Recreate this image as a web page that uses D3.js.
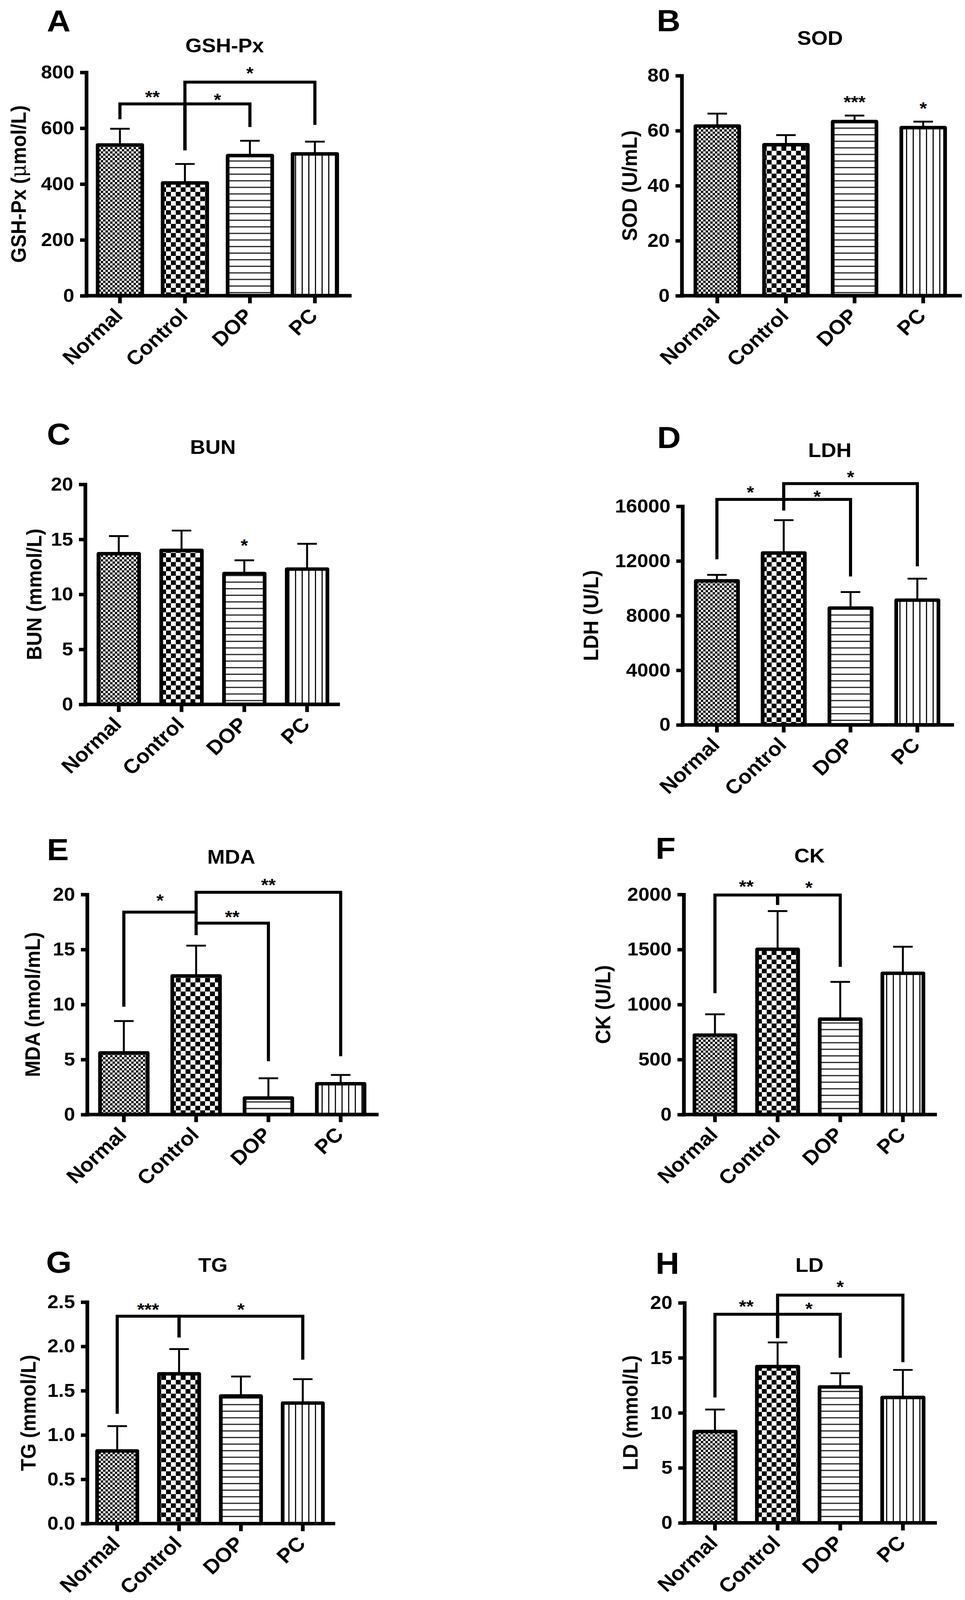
<!DOCTYPE html>
<html><head><meta charset="utf-8">
<script src="https://cdn.jsdelivr.net/npm/d3@7/dist/d3.min.js"></script>
<style>html,body{margin:0;padding:0;background:#fff;overflow:hidden;} svg{display:block;font-family:"Liberation Sans",Arial,Helvetica,sans-serif;}</style>
</head><body><div id="chart"></div>
<script>
// ---------- DATA ----------
const groups = ["Normal", "Control", "DOP", "PC"];

const gshpxTicks = [0, 200, 400, 600, 800];
const gshpxMean = [540, 404, 502, 508];
const gshpxErr = [58, 68, 53, 44];
const gshpxBrackets = [
  {from: "Normal", to: "Control", line: 687, fromLeg: 632, toLeg: 521, label: "**", labelAt: 725},
  {from: "Control", to: "DOP", line: 687, fromLeg: 521, toLeg: 604, label: "*", labelAt: 715},
  {from: "Control", to: "PC", line: 765, fromLeg: 521, toLeg: 612, label: "*", labelAt: 811}
];

const sodTicks = [0, 20, 40, 60, 80];
const sodMean = [61.7, 54.9, 63.3, 61.1];
const sodErr = [4.5, 3.5, 2.2, 2.2];
const sodStars = [{group: "DOP", label: "***", labelAt: 71.8}, {group: "PC", label: "*", labelAt: 69.5}];

const bunTicks = [0, 5, 10, 15, 20];
const bunMean = [13.7, 14.0, 11.9, 12.3];
const bunErr = [1.6, 1.8, 1.2, 2.3];
const bunStars = [{group: "DOP", label: "*", labelAt: 14.8}];

const ldhTicks = [0, 4000, 8000, 12000, 16000];
const ldhMean = [10540, 12580, 8550, 9130];
const ldhErr = [440, 2405, 1175, 1570];
const ldhBrackets = [
  {from: "Normal", to: "Control", line: 16500, fromLeg: 12120, toLeg: 15690, label: "*", labelAt: 17290},
  {from: "Control", to: "DOP", line: 16500, fromLeg: 15690, toLeg: 10860, label: "*", labelAt: 16990},
  {from: "Control", to: "PC", line: 17660, fromLeg: 15690, toLeg: 11610, label: "*", labelAt: 18400}
];

const mdaTicks = [0, 5, 10, 15, 20];
const mdaMean = [5.6, 12.6, 1.5, 2.8];
const mdaErr = [2.9, 2.75, 1.8, 0.8];
const mdaBrackets = [
  {from: "Normal", to: "Control", line: 18.4, fromLeg: 9.8, toLeg: 16.3, label: "*", labelAt: 19.8},
  {from: "Control", to: "DOP", line: 17.4, fromLeg: 16.3, toLeg: 4.85, label: "**", labelAt: 18.3},
  {from: "Control", to: "PC", line: 20.2, fromLeg: 16.3, toLeg: 5.3, label: "**", labelAt: 21.2}
];

const ckTicks = [0, 500, 1000, 1500, 2000];
const ckMean = [722, 1502, 867, 1284];
const ckErr = [189, 347, 339, 241];
const ckBrackets = [
  {from: "Normal", to: "Control", line: 1995, fromLeg: 1103, toLeg: 1906, label: "**", labelAt: 2106},
  {from: "Control", to: "DOP", line: 1995, fromLeg: 1906, toLeg: 1342, label: "*", labelAt: 2096}
];

const tgTicks = [0, 0.5, 1.0, 1.5, 2.0, 2.5];
const tgMean = [0.82, 1.69, 1.44, 1.36];
const tgErr = [0.28, 0.28, 0.22, 0.27];
const tgBrackets = [
  {from: "Normal", to: "Control", line: 2.34, fromLeg: 1.24, toLeg: 2.10, label: "***", labelAt: 2.46},
  {from: "Control", to: "PC", line: 2.34, fromLeg: 2.10, toLeg: 1.85, label: "*", labelAt: 2.46}
];

const ldTicks = [0, 5, 10, 15, 20];
const ldMean = [8.3, 14.2, 12.35, 11.4];
const ldErr = [2.0, 2.2, 1.25, 2.5];
const ldBrackets = [
  {from: "Normal", to: "Control", line: 18.96, fromLeg: 11.4, toLeg: 16.8, label: "**", labelAt: 20.0},
  {from: "Control", to: "DOP", line: 18.96, fromLeg: 16.8, toLeg: 15.0, label: "*", labelAt: 19.8},
  {from: "Control", to: "PC", line: 20.7, fromLeg: 16.8, toLeg: 14.6, label: "*", labelAt: 21.8}
];

const panels = [
  {id: "A", title: "GSH-Px", yLabel: ["GSH-Px (", "\u03bc", "mol/L)"], ticks: gshpxTicks, mean: gshpxMean, err: gshpxErr, brackets: gshpxBrackets, stars: [], fmt: d3.format("d")},
  {id: "B", title: "SOD", yLabel: ["SOD (U/mL)"], ticks: sodTicks, mean: sodMean, err: sodErr, brackets: [], stars: sodStars, fmt: d3.format("d")},
  {id: "C", title: "BUN", yLabel: ["BUN (mmol/L)"], ticks: bunTicks, mean: bunMean, err: bunErr, brackets: [], stars: bunStars, fmt: d3.format("d")},
  {id: "D", title: "LDH", yLabel: ["LDH (U/L)"], ticks: ldhTicks, mean: ldhMean, err: ldhErr, brackets: ldhBrackets, stars: [], fmt: d3.format("d")},
  {id: "E", title: "MDA", yLabel: ["MDA (nmol/mL)"], ticks: mdaTicks, mean: mdaMean, err: mdaErr, brackets: mdaBrackets, stars: [], fmt: d3.format("d")},
  {id: "F", title: "CK", yLabel: ["CK (U/L)"], ticks: ckTicks, mean: ckMean, err: ckErr, brackets: ckBrackets, stars: [], fmt: d3.format("d")},
  {id: "G", title: "TG", yLabel: ["TG (mmol/L)"], ticks: tgTicks, mean: tgMean, err: tgErr, brackets: tgBrackets, stars: [], fmt: d3.format(".1f")},
  {id: "H", title: "LD", yLabel: ["LD (mmol/L)"], ticks: ldTicks, mean: ldMean, err: ldErr, brackets: ldBrackets, stars: [], fmt: d3.format("d")}
];

// ---------- LAYOUT (reference pixel space 2470 x 4377) ----------
const layout = {
  A: {x0: 221, x1: 900, yTop: 198, yBot: 809, c1: 307, c4: 806, bw: 114, letter: [120, 87], title: [575, 143], yTitleX: 47},
  B: {x0: 1745, x1: 2462, yTop: 207, yBot: 809, c1: 1836, c4: 2363, bw: 112, letter: [1681, 86], title: [2099, 123], yTitleX: 1611},
  C: {x0: 218, x1: 870, yTop: 1325, yBot: 1927, c1: 304, c4: 786, bw: 104, letter: [120, 1216], title: [545, 1242], yTitleX: 87},
  D: {x0: 1747, x1: 2442, yTop: 1385, yBot: 1983, c1: 1835, c4: 2348, bw: 108, letter: [1682, 1226], title: [2124, 1250], yTitleX: 1512},
  E: {x0: 223, x1: 969, yTop: 2447, yBot: 3049, c1: 317, c4: 872, bw: 122, letter: [120, 2353], title: [592, 2363], yTitleX: 83},
  F: {x0: 1750, x1: 2398, yTop: 2447, yBot: 3049, c1: 1830, c4: 2311, bw: 105, letter: [1678, 2350], title: [2072, 2359], yTitleX: 1543},
  G: {x0: 223, x1: 858, yTop: 3562, yBot: 4168, c1: 300, c4: 775, bw: 103, letter: [118, 3481], title: [545, 3479], yTitleX: 72},
  H: {x0: 1752, x1: 2398, yTop: 3564, yBot: 4166, c1: 1830, c4: 2311, bw: 106, letter: [1678, 3485], title: [2072, 3479], yTitleX: 1613}
};

const W = 2470, H = 4377;
const AXW = 9.5, BARW = 9.5, BRW = 8, ERRW = 5, CAP = 50, TICK = 16;
const FONT_TICK = 51, FONT_XLAB = 55, FONT_TITLE = 54, FONT_LETTER = 84, FONT_STAR = 48;

// the drawing is laid out in the reference's pixel space and fitted to the window
const vw = window.innerWidth || W, vh = window.innerHeight || H;
const svg = d3.select("#chart").append("svg")
  .attr("width", vw).attr("height", vh).attr("viewBox", `0 0 ${W} ${H}`)
  .attr("preserveAspectRatio", "none");
svg.append("rect").attr("width", W).attr("height", H).attr("fill", "#fff");

// ---------- PATTERNS ----------
const defs = svg.append("defs");
function checker(id, c) {
  const p = defs.append("pattern").attr("id", id).attr("patternUnits", "userSpaceOnUse")
    .attr("width", 2 * c).attr("height", 2 * c);
  p.append("rect").attr("width", 2 * c).attr("height", 2 * c).attr("fill", "#fff");
  p.append("rect").attr("width", c).attr("height", c).attr("fill", "#000");
  p.append("rect").attr("x", c).attr("y", c).attr("width", c).attr("height", c).attr("fill", "#000");
}
checker("pat-Normal", 6);
checker("pat-Control", 12.5);
(function () {
  const h = defs.append("pattern").attr("id", "pat-DOP").attr("patternUnits", "userSpaceOnUse")
    .attr("width", 20).attr("height", 18);
  h.append("rect").attr("width", 20).attr("height", 18).attr("fill", "#fff");
  h.append("rect").attr("y", 7).attr("width", 20).attr("height", 3).attr("fill", "#111");
  const v = defs.append("pattern").attr("id", "pat-PC").attr("patternUnits", "userSpaceOnUse")
    .attr("width", 17).attr("height", 20);
  v.append("rect").attr("width", 17).attr("height", 20).attr("fill", "#fff");
  v.append("rect").attr("x", 7).attr("width", 3).attr("height", 20).attr("fill", "#111");
})();

// ---------- DRAW ----------
panels.forEach(p => {
  const L = layout[p.id];
  const g = svg.append("g").attr("class", "panel panel-" + p.id);
  const step = (L.c4 - L.c1) / 3;
  const pad = 1 - L.bw / step;
  const x = d3.scaleBand().domain(groups)
    .range([L.c1 - step / 2, L.c4 + step / 2])
    .paddingInner(pad).paddingOuter(pad / 2);
  const yMax = p.ticks[p.ticks.length - 1];
  const y = d3.scaleLinear().domain([0, yMax]).range([L.yBot, L.yTop]);
  const cx = d => x(d) + x.bandwidth() / 2;

  g.append("text").attr("x", L.letter[0]).attr("y", L.letter[1])
    .attr("font-size", FONT_LETTER).attr("font-weight", "bold").text(p.id);
  g.append("text").attr("x", L.title[0]).attr("y", L.title[1]).attr("text-anchor", "middle")
    .attr("font-size", FONT_TITLE).attr("font-weight", "bold").text(p.title);

  const rows = groups.map((k, i) => ({k, m: p.mean[i], e: p.err[i]}));
  const eg = g.append("g").attr("stroke", "#000").attr("stroke-width", ERRW).attr("fill", "none");
  rows.forEach(r => {
    eg.append("line").attr("x1", cx(r.k)).attr("x2", cx(r.k)).attr("y1", y(r.m)).attr("y2", y(r.m + r.e));
    eg.append("line").attr("x1", cx(r.k) - CAP / 2).attr("x2", cx(r.k) + CAP / 2)
      .attr("y1", y(r.m + r.e)).attr("y2", y(r.m + r.e));
  });
  g.append("g").selectAll("rect").data(rows).join("rect")
    .attr("x", r => x(r.k)).attr("width", x.bandwidth())
    .attr("y", r => y(r.m)).attr("height", r => y(0) - y(r.m))
    .attr("fill", r => `url(#pat-${r.k})`)
    .attr("stroke", "#000").attr("stroke-width", BARW).attr("stroke-linejoin", "round");

  const ya = g.append("g").attr("transform", `translate(${L.x0},0)`)
    .call(d3.axisLeft(y).tickValues(p.ticks).tickFormat(p.fmt).tickSize(TICK).tickSizeOuter(0).tickPadding(15));
  ya.select(".domain").attr("stroke-width", AXW).attr("stroke-linecap", "square");
  ya.selectAll(".tick line").attr("stroke-width", AXW);
  ya.selectAll(".tick text").attr("font-size", FONT_TICK).attr("font-weight", "bold")
    .attr("font-family", '"Liberation Sans", Arial, sans-serif').attr("fill", "#000");

  g.append("line").attr("x1", L.x0 - AXW / 2).attr("x2", L.x1).attr("y1", L.yBot).attr("y2", L.yBot)
    .attr("stroke", "#000").attr("stroke-width", AXW);
  const xa = g.append("g").attr("transform", `translate(0,${L.yBot})`)
    .call(d3.axisBottom(x).tickSize(TICK + AXW / 2).tickSizeOuter(0));
  xa.select(".domain").remove();
  xa.selectAll(".tick line").attr("stroke-width", AXW);
  xa.selectAll(".tick text")
    .attr("x", null).attr("y", null).attr("dy", null)
    .attr("transform", "translate(10,58) rotate(-45)")
    .attr("text-anchor", "end")
    .attr("font-size", FONT_XLAB).attr("font-weight", "bold")
    .attr("font-family", '"Liberation Sans", Arial, sans-serif').attr("fill", "#000");

  const yt = g.append("text")
    .attr("transform", `translate(${L.yTitleX},${(L.yTop + L.yBot) / 2}) rotate(-90)`)
    .attr("text-anchor", "middle").attr("dy", "0.36em")
    .attr("font-size", FONT_TITLE).attr("font-weight", "bold");
  p.yLabel.forEach(s => {
    const t = yt.append("tspan").text(s);
    if (s === "\u03bc") t.attr("font-weight", "normal").attr("font-family", '"DejaVu Serif", serif');
  });

  const bg = g.append("g");
  p.brackets.forEach(b => {
    bg.append("path")
      .attr("d", `M${cx(b.from)},${y(b.fromLeg)}V${y(b.line)}H${cx(b.to)}V${y(b.toLeg)}`)
      .attr("fill", "none").attr("stroke", "#000").attr("stroke-width", BRW)
      .attr("stroke-linejoin", "miter");
    bg.append("text").attr("x", (cx(b.from) + cx(b.to)) / 2).attr("y", y(b.labelAt) + 27)
      .attr("text-anchor", "middle").attr("font-size", FONT_STAR).attr("font-weight", "bold").text(b.label);
  });
  p.stars.forEach(s => {
    bg.append("text").attr("x", cx(s.group)).attr("y", y(s.labelAt) + 27)
      .attr("text-anchor", "middle").attr("font-size", FONT_STAR).attr("font-weight", "bold").text(s.label);
  });
});
</script>
</body></html>
